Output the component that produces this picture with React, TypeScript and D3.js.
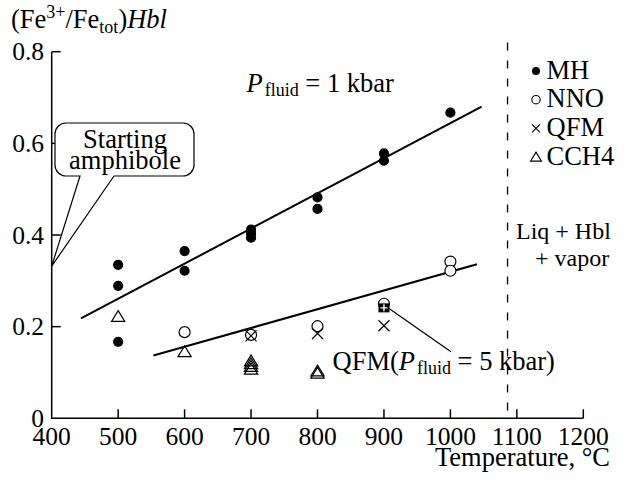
import React from "react";
import * as d3 from "d3";

const xTicks = [400, 500, 600, 700, 800, 900, 1000, 1100, 1200];
const yTicks = [0, 0.2, 0.4, 0.6, 0.8];
const yTickLabels = ["0", "0.2", "0.4", "0.6", "0.8"];

const mhT = [500, 500, 500, 600, 600, 700, 700, 700, 800, 800, 900, 900, 1000];
const mhV = [0.335, 0.289, 0.167, 0.365, 0.322, 0.412, 0.403, 0.394, 0.482, 0.457, 0.578, 0.562, 0.667];
const nnoT = [600, 700, 800, 900, 1000, 1000];
const nnoV = [0.188, 0.182, 0.201, 0.25, 0.342, 0.322];
const qfmT = [700, 800, 900];
const qfmV = [0.18, 0.185, 0.202];
const cchT = [500, 600, 700, 700, 700, 700, 800, 800];
const cchV = [0.222, 0.145, 0.125, 0.119, 0.113, 0.107, 0.103, 0.098];
const qfm5T = [900];
const qfm5V = [0.241];
const startT = 400;
const startV = 0.332;
const mhLineT = [444, 1047];
const mhLineV = [0.218, 0.68];
const nnoLineT = [553, 1040];
const nnoLineV = [0.137, 0.336];
const solidusT = 1086;
const legendItems = ["MH", "NNO", "QFM", "CCH4"];

const FONT = "Liberation Serif, Times New Roman, Times, DejaVu Serif, serif";

export default function App() {
  const W = 628, H = 479;
  const x = d3.scaleLinear().domain([400, 1200]).range([51.7, 583.3]);
  const y = d3.scaleLinear().domain([0, 0.8]).range([418.3, 51.7]);
  const line = d3.line<[number, number]>().x(d => x(d[0])).y(d => y(d[1]));

  const circ = (cx: number, cy: number, r: number, key: string, fill = "#fff") => (
    <circle key={key} cx={cx} cy={cy} r={r} fill={fill} stroke="#000" strokeWidth={1.2} />
  );
  const cross = (cx: number, cy: number, s: number, key: string) => (
    <path key={key} d={`M${cx - s},${cy - s}L${cx + s},${cy + s}M${cx - s},${cy + s}L${cx + s},${cy - s}`} stroke="#000" strokeWidth={1.2} fill="none" />
  );
  const tri = (cx: number, cy: number, s: number, key: string) => (
    <path key={key} d={`M${cx},${cy - s}L${cx + s * 1.1},${cy + s * 0.8}L${cx - s * 1.1},${cy + s * 0.8}Z`} stroke="#000" strokeWidth={1.2} fill="none" />
  );

  const bx0 = 55, bx1 = 194, by0 = 123, by1 = 176, r = 11;
  const ax = x(startT), ay = y(startV);
  const box = `M80,${by1} L${bx0 + r},${by1} A${r},${r} 0 0 1 ${bx0},${by1 - r} L${bx0},${by0 + r} A${r},${r} 0 0 1 ${bx0 + r},${by0} L${bx1 - r},${by0} A${r},${r} 0 0 1 ${bx1},${by0 + r} L${bx1},${by1 - r} A${r},${r} 0 0 1 ${bx1 - r},${by1} L114,${by1} L${ax},${ay} Z`;

  const q5x = x(qfm5T[0]), q5y = y(qfm5V[0]);
  const ts: React.CSSProperties = { fontFamily: FONT };
  const FS = 26.5, TFS = 25.5, SFS = 18;

  return (
    <svg width={W} height={H} style={{ position: "absolute", left: 0, top: 0, background: "#fff", fontFamily: FONT }}>
      <rect width={W} height={H} fill="#fff" />
      <path d={`M${x(400)},${y(0.8)}L${x(400)},${y(0)}L${x(1200)},${y(0)}`} fill="none" stroke="#000" strokeWidth={1.5} />
      {xTicks.slice(1).map(t => (
        <line key={"xt" + t} x1={x(t)} x2={x(t)} y1={y(0)} y2={y(0) - 9} stroke="#000" strokeWidth={1.5} />
      ))}
      {yTicks.slice(1).map(t => (
        <line key={"yt" + t} x1={x(400)} x2={x(400) + 9} y1={y(t)} y2={y(t)} stroke="#000" strokeWidth={1.5} />
      ))}
      {xTicks.map(t => (
        <text key={"xl" + t} style={ts} x={x(t)} y={445} fontSize={TFS} textAnchor="middle">{t}</text>
      ))}
      {yTicks.map((t, i) => (
        <text key={"yl" + t} style={ts} x={44} y={y(t) + 8.5} fontSize={TFS} textAnchor="end">{yTickLabels[i]}</text>
      ))}
      <text style={ts} x={610} y={466} fontSize={FS} textAnchor="end">Temperature, °C</text>
      <text style={ts} x={11} y={28} fontSize={FS}>
        (Fe<tspan dy={-10} fontSize={SFS}>3+</tspan><tspan dy={10}>/Fe</tspan><tspan dy={5} fontSize={SFS}>tot</tspan><tspan dy={-5}>)</tspan><tspan fontStyle="italic">Hbl</tspan>
      </text>

      <line x1={x(solidusT)} x2={x(solidusT)} y1={y(0.82)} y2={y(0)} stroke="#000" strokeWidth={1.3} strokeDasharray="8,10" />

      <path d={line(mhLineT.map((t, i) => [t, mhLineV[i]]) as any) || ""} stroke="#000" strokeWidth={2} fill="none" />
      <path d={line(nnoLineT.map((t, i) => [t, nnoLineV[i]]) as any) || ""} stroke="#000" strokeWidth={2} fill="none" />

      <path d={box} fill="#fff" stroke="#000" strokeWidth={1.2} />
      <text style={ts} x={125} y={148} fontSize={FS} textAnchor="middle">Starting</text>
      <text style={ts} x={125} y={169} fontSize={FS} textAnchor="middle">amphibole</text>

      <line x1={q5x + 4} x2={451} y1={q5y} y2={351.7} stroke="#000" strokeWidth={1.2} />

      {mhT.map((t, i) => circ(x(t), y(mhV[i]), 4.5, "mh" + i, "#000"))}
      {nnoT.map((t, i) => circ(x(t), y(nnoV[i]), 5.5, "nno" + i))}
      {qfmT.map((t, i) => cross(x(t), y(qfmV[i]), 5.5, "qfm" + i))}
      {cchT.map((t, i) => tri(x(t), y(cchV[i]), 6, "cch" + i))}
      {qfm5T.map((t, i) => (
        <g key={"q5" + i}>
          <rect x={x(t) - 5.5} y={y(qfm5V[i]) - 4.5} width={11} height={9} fill="#000" />
          <path d={`M${x(t) - 3.5},${y(qfm5V[i])}L${x(t) + 3.5},${y(qfm5V[i])}M${x(t)},${y(qfm5V[i]) - 3.5}L${x(t)},${y(qfm5V[i]) + 3.5}`} stroke="#fff" strokeWidth={1.4} />
        </g>
      ))}

      <text style={ts} x={246.5} y={91.7} fontSize={FS}>
        <tspan fontStyle="italic">P</tspan><tspan dx={2} dy={4} fontSize={SFS}>fluid</tspan><tspan dy={-4}> = 1 kbar</tspan>
      </text>
      <text style={ts} x={332.5} y={370} fontSize={FS}>
        QFM(<tspan fontStyle="italic">P</tspan><tspan dx={2} dy={4} fontSize={SFS}>fluid</tspan><tspan dy={-4}> = 5 kbar)</tspan>
      </text>
      <text style={ts} x={516} y={238.5} fontSize={24}>Liq + Hbl</text>
      <text style={ts} x={535} y={266} fontSize={24}>+ vapor</text>

      {legendItems.map((name, i) => {
        const by = 78.5 + i * 28.7;
        const sx = 536, sy = by - 7.5;
        let sym;
        if (i === 0) sym = <circle cx={sx} cy={sy} r={4} fill="#000" />;
        else if (i === 1) sym = <circle cx={sx} cy={sy} r={4.2} fill="none" stroke="#000" strokeWidth={1.1} />;
        else if (i === 2) sym = <path d={`M${sx - 4},${sy - 4}L${sx + 4},${sy + 4}M${sx - 4},${sy + 4}L${sx + 4},${sy - 4}`} stroke="#000" strokeWidth={1.1} />;
        else sym = <path d={`M${sx},${sy - 5}L${sx + 5.5},${sy + 4}L${sx - 5.5},${sy + 4}Z`} fill="none" stroke="#000" strokeWidth={1.1} />;
        return (
          <g key={"lg" + name}>
            {sym}
            <text style={ts} x={546.5} y={by} fontSize={FS}>{name}</text>
          </g>
        );
      })}
    </svg>
  );
}
